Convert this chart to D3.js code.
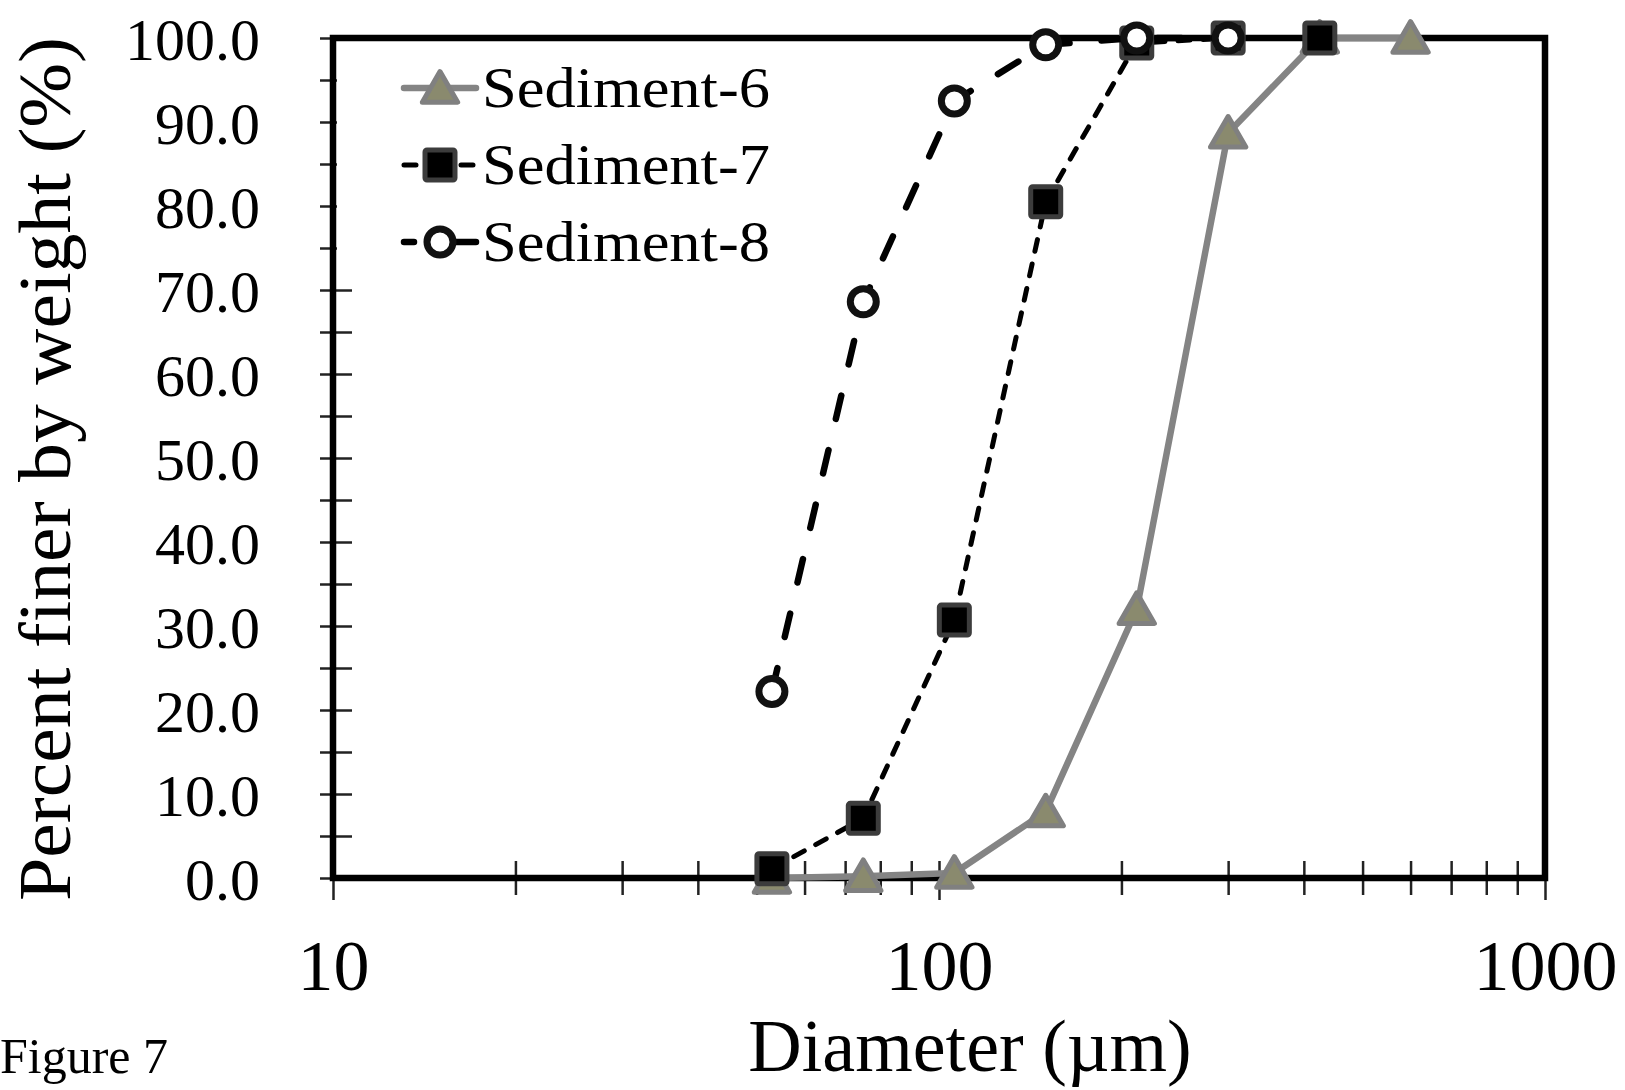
<!DOCTYPE html>
<html>
<head>
<meta charset="utf-8">
<script src="https://cdn.jsdelivr.net/npm/d3@7"></script>
<style>
  html, body { margin: 0; padding: 0; background: #fff; }
  svg { display: block; }
  text { font-family: "Liberation Serif", "Times New Roman", serif; fill: #000; }
</style>
</head>
<body>
<div id="chart"></div>
<script>
// sieve diameters (µm) and percent finer for each sediment
const diameters = [53, 75, 106, 150, 212, 300, 425, 600];
const sediment6 = [0, 0.2, 0.6, 7.9, 32.0, 88.7, 100, 100];
const sediment7 = [1.1, 7.1, 30.7, 80.5, 99.4, 100, 100];
const sediment8 = [22.2, 68.6, 92.5, 99.2, 100, 100];
const seriesNames = ['Sediment-6', 'Sediment-7', 'Sediment-8'];
const xMajorTicks = [10, 100, 1000];
const xMinorTicks = [20, 30, 40, 50, 60, 70, 80, 90, 200, 300, 400, 500, 600, 700, 800, 900];
const yLabelTicks = [0, 10, 20, 30, 40, 50, 60, 70, 80, 90, 100];
const yMinorTicks = [5, 15, 25, 35, 45, 55, 65, 75, 85, 95];

const W = 1625, H = 1090;
const plotL = 333, plotR = 1545, plotT = 38, plotB = 878;

const svg = d3.select('#chart').append('svg').attr('width', W).attr('height', H);
svg.append('rect').attr('width', W).attr('height', H).attr('fill', '#fff');

const x = d3.scaleLog().domain([10, 1000]).range([plotL, plotR]);
const y = d3.scaleLinear().domain([0, 100]).range([plotB, plotT]);

// --- ticks (they cross the frame, so axes are shifted) ---
function cleanAxis(g){ g.select('.domain').remove(); g.selectAll('line').attr('stroke', '#222').attr('stroke-width', 2.5); }

svg.append('g').attr('transform', `translate(${plotL + 19},0)`)
  .call(d3.axisLeft(y).tickValues(yLabelTicks.concat(yMinorTicks)).tickSize(32).tickFormat(''))
  .call(cleanAxis);

svg.append('g').attr('transform', `translate(0,${plotB - 17})`)
  .call(d3.axisBottom(x).tickValues(xMinorTicks).tickSize(34).tickFormat(''))
  .call(cleanAxis);
svg.append('g').attr('transform', `translate(0,${plotB - 17})`)
  .call(d3.axisBottom(x).tickValues(xMajorTicks).tickSize(39).tickFormat(''))
  .call(cleanAxis);

// tick labels
const yLab = svg.append('g').attr('transform', 'translate(260,0)')
  .call(d3.axisLeft(y).tickValues(yLabelTicks).tickSize(0).tickPadding(0).tickFormat(d3.format('.1f')));
yLab.select('.domain').remove();
yLab.selectAll('text').attr('font-size', 60).attr('font-family', 'Liberation Serif').attr('fill', '#000').attr('dy', '0.36em');

const xLab = svg.append('g').attr('transform', 'translate(0,939)')
  .call(d3.axisBottom(x).tickValues(xMajorTicks).tickSize(0).tickPadding(0).tickFormat(d3.format('d')));
xLab.select('.domain').remove();
xLab.selectAll('text').attr('font-size', 72).attr('font-family', 'Liberation Serif').attr('fill', '#000');

// frame
svg.append('rect').attr('x', plotL).attr('y', plotT).attr('width', plotR - plotL).attr('height', plotB - plotT)
  .attr('fill', 'none').attr('stroke', '#000').attr('stroke-width', 6.5);

// axis titles
svg.append('text').attr('x', 970).attr('y', 1071).attr('text-anchor', 'middle')
  .attr('font-size', 74).text('Diameter (µm)');
svg.append('text').attr('transform', 'translate(70,469) rotate(-90)').attr('text-anchor', 'middle')
  .attr('font-size', 75).attr('textLength', 864).attr('lengthAdjust', 'spacingAndGlyphs')
  .text('Percent finer by weight (%)');

svg.append('text').attr('x', 0).attr('y', 1073).attr('font-size', 50)
  .attr('textLength', 168).attr('lengthAdjust', 'spacingAndGlyphs').text('Figure 7');

// --- series ---
const styles = [
  { line: '#848484', width: 6.5, dash: null, cap: 'round', marker: 'triangle' },
  { line: '#000', width: 5, dash: '12,13', cap: 'round', marker: 'square' },
  { line: '#000', width: 6.5, dash: '24,32', cap: 'round', marker: 'circle' }
];
const values = [sediment6, sediment7, sediment8];

function drawMarker(sel, kind){
  if(kind === 'triangle'){
    sel.append('path').attr('d', d3.symbol(d3.symbolTriangle, 540)())
      .attr('transform', 'translate(0,4)')
      .attr('fill', '#8a8a6e').attr('stroke', '#808080').attr('stroke-width', 5).attr('stroke-linejoin', 'round');
  } else if(kind === 'square'){
    sel.append('rect').attr('x', -15).attr('y', -15).attr('width', 30).attr('height', 30)
      .attr('fill', '#000').attr('stroke', '#3c3c3c').attr('stroke-width', 5).attr('rx', 2);
  } else {
    sel.append('circle').attr('r', 13).attr('fill', '#fff').attr('stroke', '#111').attr('stroke-width', 7);
  }
}

const line = d3.line().x(d => x(d[0])).y(d => y(d[1]));

// legend background (covers inner ticks like the original)
svg.append('rect').attr('x', plotL + 4).attr('y', plotT + 4).attr('width', 440).attr('height', 228).attr('fill', '#fff');

values.forEach((vals, i) => {
  const st = styles[i];
  const pts = vals.map((v, j) => [diameters[j], v]);
  const g = svg.append('g');
  g.append('path').attr('d', line(pts)).attr('fill', 'none')
    .attr('stroke', st.line).attr('stroke-width', st.width)
    .attr('stroke-dasharray', st.dash).attr('stroke-linecap', st.cap).attr('stroke-linejoin', 'round');
  g.selectAll('g.pt').data(pts).join('g').attr('class', 'pt')
    .attr('transform', d => `translate(${x(d[0])},${y(d[1])})`)
    .each(function(){ drawMarker(d3.select(this), st.marker); });
});

// legend
const legend = svg.append('g');
seriesNames.forEach((name, i) => {
  const base = 107 + i * 77;
  const st = styles[i];
  const row = legend.append('g');
  row.append('line').attr('x1', 404).attr('x2', 476).attr('y1', base - 19).attr('y2', base - 19)
    .attr('stroke', st.line).attr('stroke-width', st.width).attr('stroke-linecap', 'round')
    .attr('stroke-dasharray', i === 0 ? null : (i === 1 ? '12,45' : '10,40,12,0'));
  const m = row.append('g').attr('transform', `translate(440,${base - 19})`);
  drawMarker(m, st.marker);
  row.append('text').attr('x', 482).attr('y', base).attr('font-size', 57)
    .attr('textLength', 288).attr('lengthAdjust', 'spacingAndGlyphs').text(name);
});
</script>
</body>
</html>
